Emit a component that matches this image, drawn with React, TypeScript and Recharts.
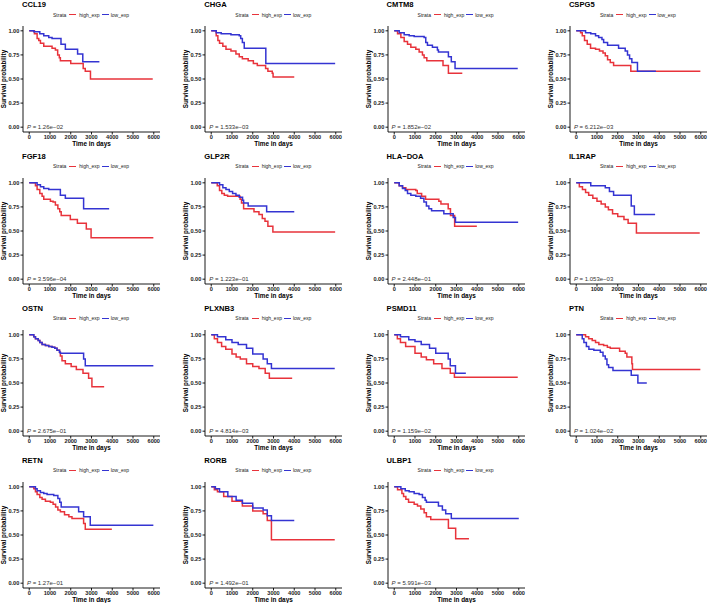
import React from "react";
import { LineChart, Line, XAxis, YAxis } from "recharts";

const genes = [
  "CCL19", "CHGA", "CMTM8", "CSPG5",
  "FGF18", "GLP2R", "HLA\u2212DOA", "IL1RAP",
  "OSTN", "PLXNB3", "PSMD11", "PTN",
  "RETN", "RORB", "ULBP1",
];

const pValues = [
  "1.26e\u221202", "1.533e\u221203", "1.852e\u221202", "6.212e\u221203",
  "3.596e\u221204", "1.223e\u221201", "2.448e\u221201", "1.053e\u221203",
  "2.675e\u221201", "4.814e\u221203", "1.159e\u221202", "1.024e\u221202",
  "1.27e\u221201", "1.492e\u221201", "5.991e\u221203",
];

// [time in days, survival probability] at each step
const highExp: number[][][] = [
  [[0,1],[250,0.97],[380,0.92],[460,0.9],[540,0.87],[700,0.84],[1100,0.82],[1260,0.8],[1370,0.75],[1450,0.72],[1500,0.69],[2000,0.66],[2600,0.61],[2700,0.58],[2950,0.5],[5950,0.5]],
  [[0,1],[240,0.95],[320,0.9],[400,0.87],[560,0.84],[710,0.81],[950,0.79],[1190,0.76],[1350,0.73],[1500,0.71],[1780,0.69],[2030,0.66],[2220,0.64],[2620,0.61],[2730,0.58],[2940,0.56],[2980,0.52],[4000,0.52]],
  [[0,1],[160,0.97],[320,0.93],[480,0.89],[640,0.86],[800,0.83],[1040,0.81],[1200,0.78],[1360,0.75],[1440,0.72],[1570,0.69],[2350,0.64],[2610,0.56],[3280,0.56]],
  [[0,1],[210,0.98],[290,0.95],[400,0.9],[530,0.86],[690,0.82],[930,0.81],[1120,0.79],[1290,0.77],[1400,0.74],[1510,0.7],[1640,0.67],[1800,0.64],[2630,0.58],[5980,0.58]],
  [[0,1],[300,0.97],[380,0.93],[510,0.89],[620,0.86],[700,0.83],[1020,0.81],[1150,0.8],[1260,0.77],[1380,0.73],[1470,0.7],[1540,0.66],[1980,0.62],[2320,0.58],[2750,0.52],[2980,0.43],[5980,0.43]],
  [[0,1],[290,0.97],[400,0.92],[510,0.89],[630,0.87],[790,0.86],[1390,0.83],[1460,0.79],[1560,0.73],[2060,0.7],[2300,0.67],[2460,0.63],[2590,0.6],[2730,0.55],[2970,0.49],[5970,0.49]],
  [[0,1],[240,0.97],[400,0.95],[560,0.93],[1040,0.92],[1110,0.89],[1320,0.86],[1510,0.83],[2150,0.81],[2250,0.78],[2600,0.73],[2710,0.66],[2910,0.55],[3980,0.55]],
  [[0,1],[150,0.96],[300,0.93],[450,0.9],[600,0.87],[800,0.84],[1000,0.81],[1200,0.78],[1400,0.75],[1550,0.72],[1750,0.68],[2000,0.65],[2300,0.62],[2500,0.58],[2900,0.48],[5950,0.48]],
  [[0,1],[220,0.98],[300,0.96],[430,0.94],[510,0.92],[620,0.9],[780,0.89],[940,0.88],[1100,0.87],[1230,0.86],[1340,0.84],[1460,0.82],[1500,0.78],[1580,0.73],[1740,0.7],[2020,0.67],[2270,0.64],[2590,0.6],[2860,0.55],[3020,0.46],[3610,0.46]],
  [[0,1],[150,0.96],[300,0.92],[500,0.88],[700,0.85],[1000,0.8],[1200,0.77],[1400,0.75],[1700,0.7],[2000,0.67],[2300,0.65],[2600,0.6],[2800,0.55],[3900,0.55]],
  [[0,1],[150,0.96],[300,0.92],[550,0.88],[1000,0.81],[1300,0.77],[1550,0.74],[1900,0.7],[2300,0.65],[2700,0.6],[2900,0.56],[5950,0.56]],
  [[0,1],[450,0.98],[600,0.96],[770,0.94],[930,0.92],[1090,0.9],[1320,0.89],[1500,0.87],[1640,0.86],[2090,0.83],[2360,0.81],[2440,0.77],[2680,0.7],[2710,0.64],[5980,0.64]],
  [[0,1],[220,0.98],[300,0.95],[380,0.92],[510,0.89],[620,0.87],[780,0.85],[1020,0.84],[1150,0.82],[1270,0.79],[1380,0.76],[1500,0.74],[1700,0.71],[1910,0.69],[2060,0.67],[2620,0.62],[2700,0.56],[3980,0.56]],
  [[0,1],[150,0.97],[300,0.95],[600,0.9],[1000,0.85],[1500,0.8],[2000,0.75],[2500,0.72],[2700,0.65],[2900,0.45],[5950,0.45]],
  [[0,1],[160,0.97],[370,0.93],[450,0.9],[560,0.87],[690,0.84],[960,0.82],[1120,0.8],[1280,0.77],[1440,0.73],[1550,0.69],[1760,0.66],[2610,0.57],[2960,0.46],[3600,0.46]],
];

const lowExp: number[][][] = [
  [[0,1],[220,0.99],[510,0.97],[700,0.95],[940,0.93],[1100,0.92],[1530,0.86],[1740,0.81],[2330,0.76],[2580,0.68],[3380,0.68]],
  [[0,1],[240,0.98],[480,0.97],[950,0.96],[1350,0.95],[1420,0.92],[1500,0.88],[1590,0.82],[2630,0.66],[5970,0.66]],
  [[0,1],[240,0.98],[480,0.96],[720,0.95],[960,0.94],[1440,0.93],[1520,0.88],[1600,0.85],[1840,0.83],[2080,0.8],[2130,0.78],[2610,0.73],[2750,0.68],[2930,0.61],[5950,0.61]],
  [[0,1],[450,0.98],[700,0.97],[930,0.95],[1080,0.93],[1240,0.91],[1320,0.88],[1510,0.85],[2040,0.82],[2360,0.79],[2470,0.75],[2570,0.71],[2680,0.67],[2950,0.58],[3840,0.58]],
  [[0,1],[380,0.98],[540,0.96],[700,0.94],[940,0.93],[1500,0.87],[1740,0.84],[2620,0.73],[3850,0.73]],
  [[0,1],[400,0.98],[560,0.95],[710,0.93],[870,0.91],[1030,0.89],[1190,0.87],[1350,0.85],[1510,0.82],[1560,0.79],[1780,0.76],[2670,0.7],[4000,0.7]],
  [[0,1],[240,0.97],[400,0.94],[530,0.92],[640,0.89],[800,0.87],[1040,0.86],[1270,0.84],[1430,0.8],[1550,0.76],[1670,0.73],[1800,0.71],[2390,0.68],[2840,0.64],[2950,0.59],[5970,0.59]],
  [[0,1],[700,0.97],[1400,0.95],[1600,0.91],[1800,0.87],[2650,0.76],[2800,0.67],[3800,0.67]],
  [[0,1],[220,0.98],[300,0.96],[430,0.94],[510,0.92],[620,0.9],[780,0.89],[940,0.88],[1100,0.87],[1230,0.86],[1340,0.84],[1460,0.82],[1500,0.81],[2620,0.75],[2700,0.68],[5980,0.68]],
  [[0,1],[300,0.98],[700,0.95],[1000,0.92],[1300,0.9],[1700,0.86],[2000,0.8],[2500,0.75],[2700,0.7],[2900,0.65],[5950,0.65]],
  [[0,1],[300,0.98],[700,0.95],[1000,0.93],[1300,0.9],[1700,0.86],[2000,0.81],[2600,0.75],[2700,0.68],[2950,0.6],[3450,0.6]],
  [[0,1],[290,0.96],[370,0.92],[490,0.88],[610,0.85],[850,0.84],[1160,0.82],[1290,0.78],[1400,0.75],[1480,0.69],[1560,0.66],[1770,0.63],[2650,0.58],[2970,0.5],[3400,0.5]],
  [[0,1],[300,0.98],[380,0.96],[540,0.94],[700,0.93],[860,0.92],[1180,0.91],[1380,0.88],[1470,0.84],[1540,0.79],[2380,0.74],[2620,0.69],[2940,0.6],[5980,0.6]],
  [[0,1],[200,0.98],[400,0.95],[800,0.9],[1200,0.86],[1500,0.83],[2000,0.78],[2500,0.76],[2700,0.7],[2900,0.65],[4000,0.65]],
  [[0,1],[320,0.98],[530,0.96],[720,0.95],[960,0.93],[1200,0.92],[1360,0.89],[1490,0.86],[1550,0.84],[2130,0.8],[2320,0.76],[2480,0.72],[2750,0.67],[6000,0.67]],
];

const timeTicks = [0, 1000, 2000, 3000, 4000, 5000, 6000];
const survTicks = [0, 0.25, 0.5, 0.75, 1];

const RED = "#E8333B";
const BLUE = "#3434D2";
const FONT = "'Liberation Sans', Arial, Helvetica, sans-serif";
const W = 183;
const H = 152;

const toRows = (pts: number[][]) => pts.map(([t, s]) => ({ t, s }));

function Panel({ idx }: { idx: number }) {
  const left = 182.3 * (idx % 4);
  const top = 151.9 * Math.floor(idx / 4);
  return (
    <div style={{ position: "absolute", left, top, width: W, height: H }}>
      <LineChart width={W} height={H} margin={{ top: 26, right: 23, bottom: 0, left: 0 }}>
        <XAxis
          dataKey="t"
          type="number"
          domain={[-300, 6300]}
          ticks={timeTicks}
          allowDataOverflow
          height={20}
          tickSize={2.5}
          tickMargin={0.5}
          stroke="#000"
          strokeWidth={0.9}
          tick={{ fontSize: 5.6, fontWeight: "bold", fill: "#1a1a1a", fontFamily: FONT }}
          label={{
            value: "Time in days",
            position: "insideBottom",
            offset: 6.3,
            style: { fontSize: 6.4, fontWeight: "bold", fill: "#000", fontFamily: FONT },
          }}
        />
        <YAxis
          type="number"
          domain={[-0.05, 1.05]}
          ticks={survTicks}
          allowDataOverflow
          width={23}
          tickSize={2.5}
          tickMargin={1.2}
          stroke="#000"
          strokeWidth={0.9}
          tickFormatter={(v: number) => v.toFixed(2)}
          tick={{ fontSize: 5.6, fontWeight: "bold", fill: "#1a1a1a", fontFamily: FONT }}
          label={{
            value: "Survival probability",
            angle: -90,
            position: "insideLeft",
            offset: 4,
            style: { textAnchor: "middle", fontSize: 6.3, fontWeight: "bold", fill: "#000", fontFamily: FONT },
          }}
        />
        <Line
          data={toRows(highExp[idx])}
          dataKey="s"
          type="stepAfter"
          stroke={RED}
          strokeWidth={1.5}
          dot={false}
          isAnimationActive={false}
        />
        <Line
          data={toRows(lowExp[idx])}
          dataKey="s"
          type="stepAfter"
          stroke={BLUE}
          strokeWidth={1.5}
          dot={false}
          isAnimationActive={false}
        />
      </LineChart>

      <div
        style={{
          position: "absolute", left: 22, top: 0, lineHeight: "9px",
          fontSize: 7.6, fontWeight: "bold", color: "#000", fontFamily: FONT, whiteSpace: "nowrap",
        }}
      >
        {genes[idx]}
      </div>

      <div
        style={{
          position: "absolute", left: 91, top: 10, height: 9, transform: "translateX(-50%)",
          display: "flex", alignItems: "center", fontSize: 5, color: "#222",
          fontFamily: FONT, whiteSpace: "nowrap",
        }}
      >
        <span style={{ marginRight: 3 }}>Strata</span>
        <span style={{ display: "inline-block", width: 7, height: 1.3, background: RED, marginRight: 3 }} />
        <span style={{ marginRight: 2 }}>high_exp</span>
        <span style={{ display: "inline-block", width: 7, height: 1.3, background: BLUE, marginRight: 2 }} />
        <span>low_exp</span>
      </div>

      <div
        style={{
          position: "absolute", left: 27, top: 123, lineHeight: "8px",
          fontSize: 6, color: "#333", fontFamily: FONT, whiteSpace: "nowrap",
        }}
      >
        <i>P</i> = {pValues[idx]}
      </div>
    </div>
  );
}

export default function App() {
  return (
    <div
      style={{
        position: "absolute", left: 0, top: 0, width: 709, height: 603,
        overflow: "hidden", background: "#fff",
      }}
    >
      {genes.map((g, i) => (
        <Panel key={g} idx={i} />
      ))}
    </div>
  );
}
